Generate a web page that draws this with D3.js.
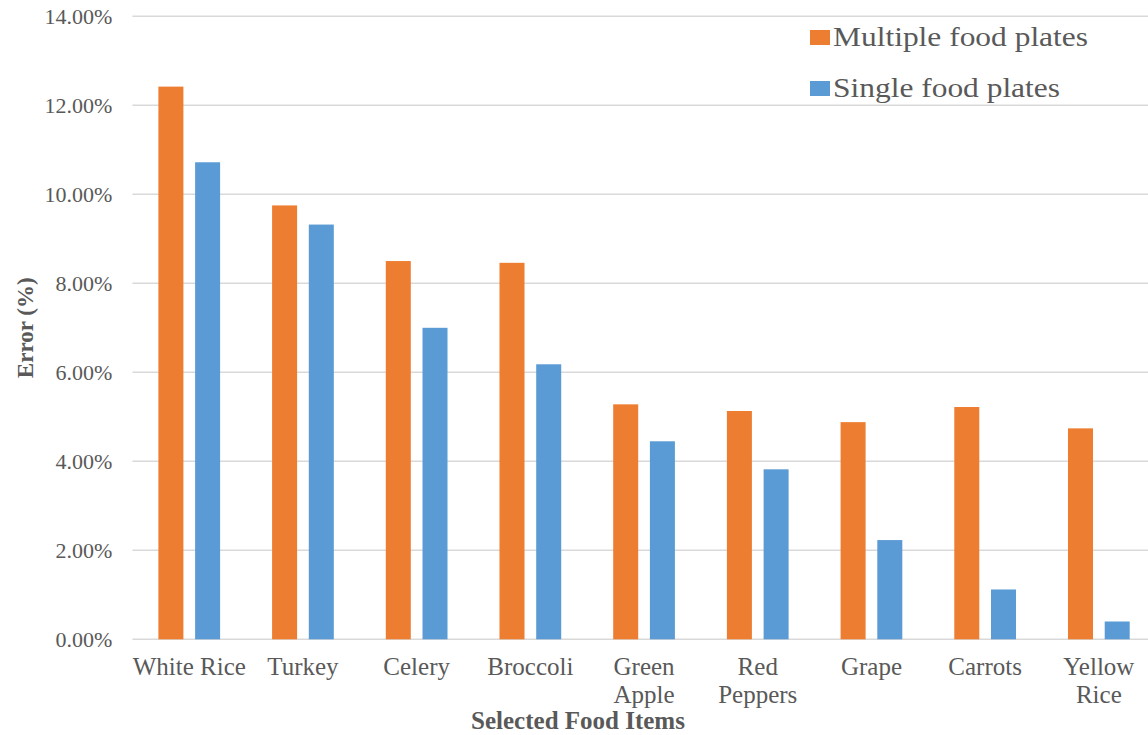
<!DOCTYPE html>
<html>
<head>
<meta charset="utf-8">
<script src="https://cdn.jsdelivr.net/npm/d3@7"></script>
<style>
  html, body { margin: 0; padding: 0; background: #fff; }
  svg { display: block; font-family: "Liberation Serif", "Times New Roman", serif; }
</style>
</head>
<body>
<svg id="chart" width="1148" height="735"></svg>
<script>
// Error of food item estimation, by plate type (values in percent)
const categories = ["White Rice", "Turkey", "Celery", "Broccoli", "Green Apple",
                    "Red Peppers", "Grape", "Carrots", "Yellow Rice"];
const seriesNames = ["Multiple food plates", "Single food plates"];
const multipleValues = [12.42, 9.75, 8.50, 8.46, 5.28, 5.13, 4.88, 5.22, 4.74];
const singleValues   = [10.72, 9.32, 7.00, 6.18, 4.45, 3.82, 2.23, 1.12, 0.40];
const yTicks = [0, 2, 4, 6, 8, 10, 12, 14];
const wrappedLabels = ["Green Apple", "Red Peppers", "Yellow Rice"];
const colors = ["#ED7D31", "#5B9BD5"];

const rows = categories.map((c, i) => ({
  category: c,
  values: [multipleValues[i], singleValues[i]]
}));

const svg = d3.select("#chart");
const plot = { left: 132.4, right: 1155.7, top: 16.3, bottom: 639.3 };

const x = d3.scaleBand()
  .domain(categories)
  .range([plot.left, plot.right])
  .paddingInner(0).paddingOuter(0);

const xInner = d3.scaleBand()
  .domain(seriesNames)
  .range([0, x.step()])
  .paddingInner(0.319)
  .paddingOuter(0.708);

const y = d3.scaleLinear()
  .domain([0, 14])
  .range([plot.bottom, plot.top]);

// horizontal gridlines
svg.append("g")
  .selectAll("line")
  .data(yTicks)
  .join("line")
  .attr("x1", plot.left)
  .attr("x2", plot.right)
  .attr("y1", d => y(d))
  .attr("y2", d => y(d))
  .attr("stroke", "#d9d9d9")
  .attr("stroke-width", 1.6);

// y axis tick labels
const yAxis = d3.axisLeft(y)
  .tickValues(yTicks)
  .tickFormat(d => d.toFixed(2) + "%")
  .tickSize(0)
  .tickPadding(20);

svg.append("g")
  .attr("transform", `translate(${plot.left},0)`)
  .call(yAxis)
  .call(g => g.select(".domain").remove())
  .call(g => g.selectAll("text")
    .attr("fill", "#595959")
    .attr("font-size", 22)
    .attr("font-family", "Liberation Serif, serif")
    .attr("dy", "0.33em"));

// bars
const groups = svg.append("g")
  .selectAll("g")
  .data(rows)
  .join("g")
  .attr("transform", d => `translate(${x(d.category)},0)`);

groups.selectAll("rect")
  .data(d => d.values.map((v, i) => ({ series: seriesNames[i], value: v, idx: i })))
  .join("rect")
  .attr("x", d => xInner(d.series))
  .attr("width", xInner.bandwidth())
  .attr("y", d => y(d.value))
  .attr("height", d => y(0) - y(d.value))
  .attr("fill", d => colors[d.idx]);

// category labels (x axis)
const xAxis = d3.axisBottom(x).tickSize(0).tickPadding(0);
const xg = svg.append("g")
  .attr("transform", `translate(0,${plot.bottom})`)
  .call(xAxis)
  .call(g => g.select(".domain").remove());

xg.selectAll(".tick text")
  .attr("fill", "#595959")
  .attr("font-size", 25)
  .attr("font-family", "Liberation Serif, serif")
  .attr("dy", null)
  .attr("y", 0)
  .each(function(d) {
    const t = d3.select(this);
    const lines = wrappedLabels.includes(d) ? d.split(" ") : [d];
    t.text(null);
    lines.forEach((ln, i) => {
      t.append("tspan")
        .attr("x", 0)
        .attr("y", 36 + i * 27.5)
        .text(ln);
    });
  });

// axis titles
svg.append("text")
  .attr("x", 578)
  .attr("y", 729)
  .attr("text-anchor", "middle")
  .attr("font-size", 25)
  .attr("font-weight", "bold")
  .attr("fill", "#595959")
  .text("Selected Food Items");

svg.append("text")
  .attr("transform", `translate(33,${(plot.top + plot.bottom) / 2}) rotate(-90)`)
  .attr("text-anchor", "middle")
  .attr("font-size", 23)
  .attr("font-weight", "bold")
  .attr("fill", "#595959")
  .text("Error (%)");

// legend
const legend = svg.append("g")
  .selectAll("g")
  .data(seriesNames)
  .join("g")
  .attr("transform", (d, i) => `translate(810,${46 + i * 51})`);

legend.append("rect")
  .attr("x", 0)
  .attr("y", -16)
  .attr("width", 20)
  .attr("height", 15)
  .attr("fill", (d, i) => colors[i]);

legend.append("text")
  .attr("x", 23)
  .attr("y", 0)
  .attr("font-size", 28)
  .attr("fill", "#595959")
  .attr("textLength", (d, i) => i === 0 ? 255 : 227)
  .attr("lengthAdjust", "spacingAndGlyphs")
  .text(d => d);
</script>
</body>
</html>
